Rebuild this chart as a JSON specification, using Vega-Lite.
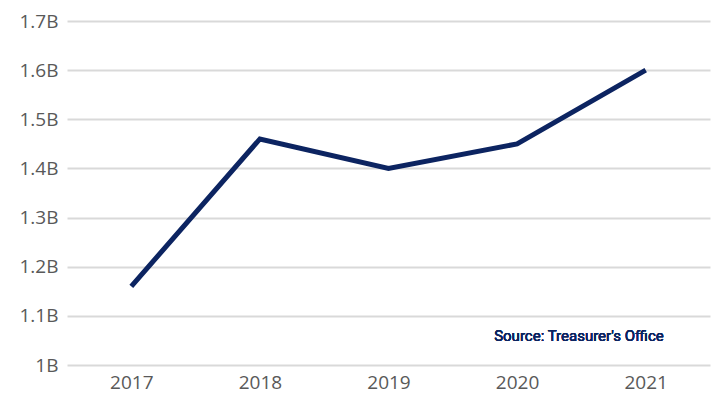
{
  "$schema": "https://vega.github.io/schema/vega-lite/v6.json",
  "autosize": "none",
  "width": 643,
  "height": 344,
  "padding": {"left": 67, "top": 21, "right": 4, "bottom": 42},
  "background": "white",
  "config": {"view": {"stroke": null}},
  "data": {"values": [
    {"year": "2017", "value": 1.16},
    {"year": "2018", "value": 1.46},
    {"year": "2019", "value": 1.40},
    {"year": "2020", "value": 1.45},
    {"year": "2021", "value": 1.60}
  ]},
  "layer": [
    {
      "mark": {"type": "line", "color": "#0c2461", "strokeWidth": 5, "strokeJoin": "miter"},
      "encoding": {
        "x": {"field": "year", "type": "ordinal", "scale": {"type": "point", "padding": 0.5},
          "axis": {"title": null, "domain": false, "ticks": false, "labelAngle": 0, "labelFont": "Open Sans", "labelFontSize": 19, "labelColor": "#595959", "labelPadding": 8}},
        "y": {"field": "value", "type": "quantitative", "scale": {"domain": [1, 1.7], "nice": false, "zero": false},
          "axis": {"title": null, "domain": false, "ticks": false, "values": [1, 1.1, 1.2, 1.3, 1.4, 1.5, 1.6, 1.7], "labelExpr": "datum.value == 1 ? '1B' : format(datum.value, '.1f') + 'B'", "labelFont": "Open Sans", "labelFontSize": 19, "labelColor": "#595959", "labelPadding": 9, "gridColor": "#d9d9d9", "gridWidth": 2}}
      }
    },
    {
      "mark": {"type": "text", "text": "Source: Treasurer's Office", "align": "right", "baseline": "middle", "dx": 18, "font": "Roboto", "fontSize": 15, "fontWeight": "normal", "color": "#0c2461"},
      "encoding": {"x": {"datum": "2021", "type": "ordinal"}, "y": {"datum": 1.06, "type": "quantitative"}}
    }
  ]
}
